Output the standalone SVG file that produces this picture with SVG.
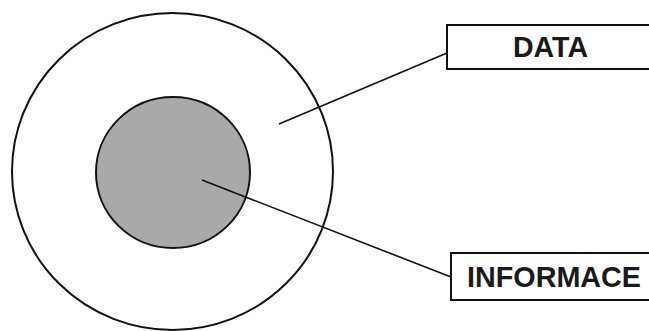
<svg xmlns="http://www.w3.org/2000/svg" width="649" height="331" viewBox="0 0 649 331">
<style>
.ring{fill:none;stroke:#111;stroke-width:2}
.core{fill:#a9a9a9;stroke:#111;stroke-width:2}
.box{fill:#fff;stroke:#111;stroke-width:2}
.lbl{font-family:"Liberation Sans",Arial,sans-serif;font-weight:bold;font-size:30px;fill:#1a1a1a}
.conn line{stroke:#111;stroke-width:1.6}
</style>
<rect width="649" height="331" fill="#fff"/>
<g id="data-ring"><ellipse class="ring" cx="172.5" cy="171.5" rx="160.5" ry="158.5"/></g>
<g id="info-core"><ellipse class="core" cx="173" cy="172.5" rx="77" ry="75.5"/></g>
<g id="connectors" class="conn">
<line x1="279" y1="124" x2="447" y2="53"/>
<line x1="202" y1="180" x2="451" y2="277"/>
</g>
<g id="data-box"><rect class="box" x="447" y="25" width="215" height="44"/><text class="lbl" x="513" y="57" textLength="75" lengthAdjust="spacingAndGlyphs">DATA</text></g>
<g id="informace-box"><rect class="box" x="451" y="253" width="215" height="47"/><text class="lbl" x="467" y="287" textLength="174" lengthAdjust="spacingAndGlyphs">INFORMACE</text></g>
</svg>
